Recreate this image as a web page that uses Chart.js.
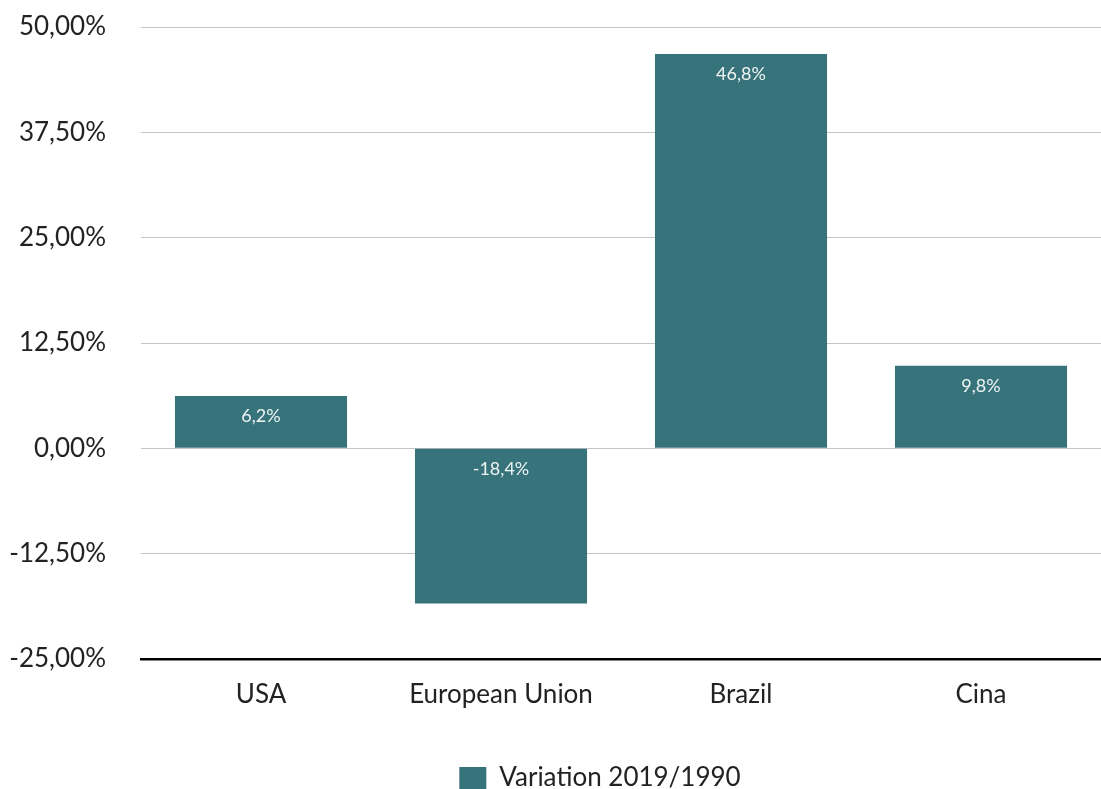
<!DOCTYPE html>
<html>
<head>
<meta charset="utf-8">
<script src="https://cdn.jsdelivr.net/npm/chart.js@4"></script>
<style>
html,body{margin:0;padding:0;background:#fff;overflow:hidden;}
#wrap{width:1101px;height:789px;position:relative;}
</style>
</head>
<body>
<div id="wrap"><canvas id="c"></canvas></div>
<script>
const categories = ["USA", "European Union", "Brazil", "Cina"];
const seriesName = "Variation 2019/1990";
const values = [6.2, -18.4, 46.8, 9.8];
const valueLabels = ["6,2%", "-18,4%", "46,8%", "9,8%"];
const yMin = -25, yMax = 50, yStep = 12.5;

const FONT = "Lato, 'Noto Sans', sans-serif";
const BAR = "#37737a";

const labelPlugin = {
  id: 'barLabels',
  afterLayout(chart) {
    if (chart.legend) { chart.legend.left += 40; chart.legend.right += 40; }
  },
  afterDatasetsDraw(chart) {
    const ctx = chart.ctx;
    const meta = chart.getDatasetMeta(0);
    ctx.save();
    ctx.fillStyle = '#eef3f3';
    ctx.font = "18px " + FONT;
    ctx.textAlign = 'center';
    ctx.textBaseline = 'middle';
    meta.data.forEach((bar, i) => {
      const top = Math.min(bar.y, bar.base);
      ctx.fillText(valueLabels[i], bar.x, top + 20);
    });
    ctx.restore();
  }
};

new Chart(document.getElementById('c'), {
  type: 'bar',
  data: {
    labels: categories,
    datasets: [{
      label: seriesName,
      data: values,
      backgroundColor: BAR,
      borderWidth: 0,
      barPercentage: 0.717,
      categoryPercentage: 1.0
    }]
  },
  options: {
    responsive: true,
    maintainAspectRatio: false,
    animation: false,
    layout: { padding: { left: 8, right: -11, top: 0, bottom: -12 } },
    plugins: {
      legend: {
        position: 'bottom',
        labels: {
          boxWidth: 27, boxHeight: 22,
          color: '#222',
          font: { family: FONT, size: 26 },
          padding: 0
        }
      },
      tooltip: { enabled: false }
    },
    scales: {
      x: {
        grid: { display: false, drawTicks: false },
        border: { color: '#000', width: 2.5 },
        ticks: { color: '#222', font: { family: FONT, size: 26 }, padding: 20 },
        afterFit(s) { s.height = 106; s.paddingLeft = 0; s.paddingRight = 0; }
      },
      y: {
        min: yMin, max: yMax,
        grid: { color: '#c4c4c4', lineWidth: 1, drawTicks: false },
        border: { display: false },
        ticks: {
          stepSize: yStep,
          color: '#222',
          font: { family: FONT, size: 26 },
          padding: 35,
          callback: v => v.toFixed(2).replace('.', ',') + '%'
        },
        afterFit(s) { s.width = 133; s.paddingTop = 27; s.paddingBottom = 0; }
      }
    }
  },
  plugins: [labelPlugin]
});
</script>
</body>
</html>
